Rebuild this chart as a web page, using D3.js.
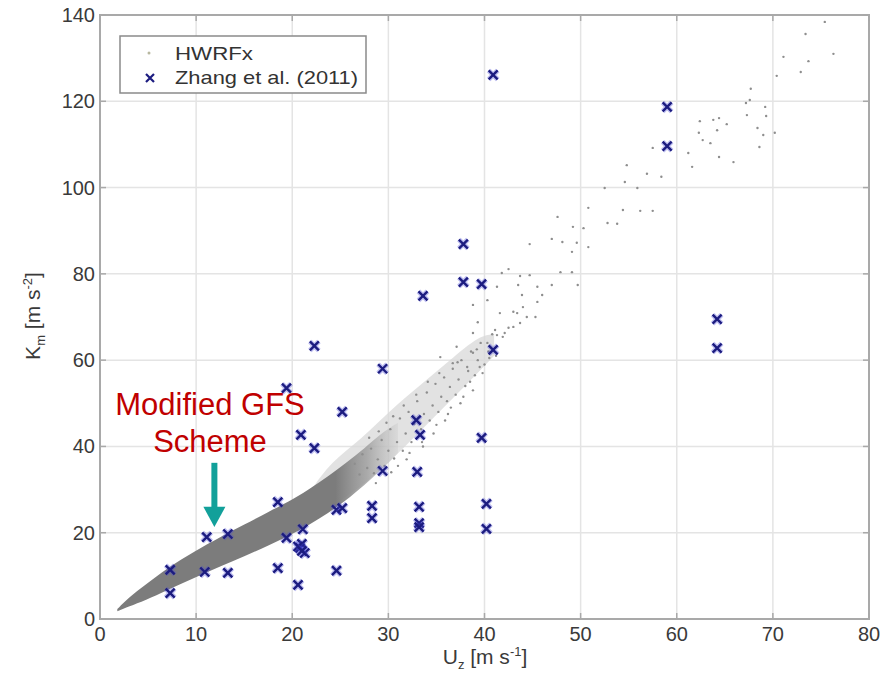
<!DOCTYPE html>
<html>
<head>
<meta charset="utf-8">
<script src="https://cdn.jsdelivr.net/npm/d3@7"></script>
<style>
body { margin: 0; background: #fff; }
text { font-family: Arial, "Liberation Sans", sans-serif; }
</style>
</head>
<body>
<script>
var width = 895, height = 678;

var xTicks = [0, 10, 20, 30, 40, 50, 60, 70, 80];
var yTicks = [0, 20, 40, 60, 80, 100, 120, 140];

// Zhang et al. (2011) points [Uz, Km]
var zhang = [
  [7.3, 11.4], [7.3, 6.0], [10.9, 10.9], [11.1, 19.0], [13.3, 19.7], [13.3, 10.7],
  [18.5, 27.1], [18.5, 11.8], [19.4, 53.5], [19.4, 18.8], [20.6, 7.9], [20.8, 16.5],
  [21.0, 17.4], [21.3, 15.3], [20.6, 16.8], [21.0, 15.8], [21.1, 20.8], [20.9, 42.7],
  [22.3, 39.6], [22.3, 63.3], [24.6, 11.2], [24.6, 25.3], [25.2, 25.7], [25.2, 48.0],
  [28.3, 26.2], [28.3, 23.4], [29.4, 58.0], [29.4, 34.3], [32.9, 46.1], [33.3, 42.7],
  [33.0, 34.1], [33.6, 74.9], [33.2, 26.0], [33.2, 22.2], [33.2, 21.3], [37.8, 86.9],
  [37.8, 78.1], [39.7, 77.6], [39.7, 42.0], [40.2, 26.7], [40.2, 20.9], [40.9, 126.1],
  [40.9, 62.4], [59.0, 118.7], [59.0, 109.6], [64.2, 69.5], [64.2, 62.8]
];

// HWRFx dense band (solid part): Uz with lower / upper Km edges
var bandU  = [1.8, 3.0, 4.7, 7.0, 9.9, 12.5, 15.1, 17.5, 20.3, 22.0, 23.7, 25.5, 27.5, 29.5, 31.0];
var bandLo = [1.8, 2.9, 4.3, 6.7, 9.6, 12.2, 14.6, 17.0, 20.0, 22.2, 24.5, 27.3, 31.0, 35.0, 38.5];
var bandHi = [2.3, 5.0, 7.9, 11.8, 15.8, 19.0, 22.0, 24.8, 28.0, 30.5, 33.0, 36.0, 39.5, 43.5, 45.5];

// HWRFx lighter speckled part of the band
var lightU  = [22.0, 24.0, 27.1, 30.2, 33.3, 36.4, 39.5, 41.0];
var lightLo = [23.0, 26.0, 30.5, 36.5, 43.5, 50.5, 57.5, 61.0];
var lightHi = [30.0, 36.4, 41.5, 48.4, 54.2, 60.0, 65.8, 66.0];

// HWRFx individual points
var hwrfx = [
  [26.5, 36.0], [27.0, 33.5], [27.3, 38.2], [27.8, 35.0], [28.2, 39.5], [28.5, 33.8],
  [28.9, 37.0], [29.3, 41.5], [29.6, 35.5], [30.0, 39.0], [30.2, 44.0], [30.6, 37.2],
  [30.9, 41.0], [31.2, 46.5], [31.5, 39.0], [31.8, 43.0], [32.1, 48.0], [32.4, 41.0],
  [32.7, 45.2], [33.0, 50.5], [33.4, 44.0], [33.7, 47.5], [34.0, 52.5], [34.3, 46.0],
  [34.6, 49.5], [34.9, 54.5], [35.2, 48.0], [35.5, 51.5], [35.8, 56.0], [36.1, 50.5],
  [36.4, 53.8], [36.7, 58.0], [37.0, 52.0], [37.3, 55.5], [37.6, 60.0], [38.0, 54.0],
  [38.3, 57.5], [38.6, 62.0], [39.0, 56.5], [39.3, 60.0], [39.6, 64.0], [40.0, 59.0],
  [40.4, 62.0], [40.8, 66.0], [41.2, 61.0],
  [29.0, 43.5], [29.8, 45.5], [30.5, 47.0], [31.0, 35.5], [31.6, 49.5], [32.2, 38.5],
  [32.9, 52.0], [33.5, 41.0], [34.1, 55.0], [34.7, 43.0], [35.3, 57.0], [35.9, 46.0],
  [36.5, 49.0], [37.2, 59.5], [37.8, 51.5], [38.5, 55.0], [39.2, 62.5], [39.8, 57.0],
  [40.5, 60.5], [28.0, 42.0], [28.7, 31.5], [30.3, 34.0], [31.9, 37.0], [33.6, 40.0],
  [35.0, 45.0], [36.2, 47.5], [37.5, 50.0], [38.8, 53.0],
  [35.4, 60.7], [36.7, 59.3], [38.2, 58.4], [39.5, 58.4], [37.1, 63.1], [38.8, 61.7],
  [38.8, 66.3], [40.3, 64.0], [41.9, 65.4], [39.3, 68.8], [41.1, 67.0], [42.5, 67.5],
  [43.7, 68.6], [38.8, 72.8], [40.3, 73.9], [41.6, 70.9], [43.0, 71.2], [44.4, 70.0],
  [43.0, 67.7], [41.3, 65.8], [42.1, 66.3], [43.4, 70.9], [45.3, 70.0], [44.0, 72.3],
  [43.9, 75.1], [46.0, 75.1], [45.5, 73.5], [41.8, 80.2], [41.3, 77.0], [42.5, 81.1],
  [43.7, 79.5], [44.7, 79.7], [43.5, 77.4], [45.5, 77.0], [47.0, 77.4], [47.9, 80.4],
  [49.1, 80.4], [49.7, 77.4], [44.7, 86.9], [47.0, 88.1], [48.1, 87.4], [49.6, 87.2],
  [50.8, 86.2], [49.1, 85.1], [47.6, 93.2], [49.2, 90.9], [50.3, 90.6], [52.8, 91.8],
  [53.8, 91.6], [50.8, 95.3], [54.4, 94.8], [56.2, 94.6], [57.5, 94.6], [52.5, 99.9],
  [55.9, 99.9], [54.6, 101.3], [54.8, 105.2], [56.9, 103.2], [58.4, 102.5], [61.6, 104.8],
  [65.9, 105.9], [64.4, 107.1], [61.2, 108.0], [57.5, 109.2], [68.6, 109.4], [63.5, 110.3],
  [62.7, 111.0], [69.0, 112.2], [70.2, 112.7], [62.3, 112.7], [64.2, 113.3], [68.4, 113.8],
  [65.2, 114.7], [62.4, 115.4], [63.8, 115.7], [64.4, 116.1], [67.3, 116.8], [69.3, 116.6],
  [69.2, 118.7], [67.2, 119.6], [67.6, 120.3], [67.7, 122.9], [70.4, 125.9], [72.9, 126.8],
  [73.7, 129.3], [71.1, 130.3], [76.3, 131.0], [73.4, 135.6], [75.4, 138.4]
];

var svg = d3.select("body").append("svg")
    .attr("width", width)
    .attr("height", height)
    .style("background", "#fff");

var x = d3.scaleLinear().domain([0, 80]).range([100, 869]);
var y = d3.scaleLinear().domain([0, 140]).range([619, 15]);

// grid
svg.selectAll("line.vgrid")
    .data(xTicks.slice(1, -1))
    .enter().append("line")
    .attr("class", "vgrid")
    .attr("x1", function (d) { return x(d); })
    .attr("x2", function (d) { return x(d); })
    .attr("y1", y(0)).attr("y2", y(140))
    .style("stroke", "#e4e4e4").style("stroke-width", 1.5);

svg.selectAll("line.hgrid")
    .data(yTicks.slice(1, -1))
    .enter().append("line")
    .attr("class", "hgrid")
    .attr("y1", function (d) { return y(d); })
    .attr("y2", function (d) { return y(d); })
    .attr("x1", x(0)).attr("x2", x(80))
    .style("stroke", "#e4e4e4").style("stroke-width", 1.5);

// HWRFx band
var light = lightU.map(function (u, i) { return [u, lightLo[i], lightHi[i]]; });
var band = bandU.map(function (u, i) { return [u, bandLo[i], bandHi[i]]; });
var area = d3.area()
    .x(function (d) { return x(d[0]); })
    .y0(function (d) { return y(d[1]); })
    .y1(function (d) { return y(d[2]); })
    .curve(d3.curveBasis);

var grad = svg.append("defs").append("linearGradient")
    .attr("id", "fade")
    .attr("gradientUnits", "userSpaceOnUse")
    .attr("x1", x(24.5)).attr("x2", x(31)).attr("y1", 0).attr("y2", 0);
grad.append("stop").attr("offset", 0).attr("stop-color", "#7c7c7c").attr("stop-opacity", 1);
grad.append("stop").attr("offset", 0.5).attr("stop-color", "#919191").attr("stop-opacity", 0.7);
grad.append("stop").attr("offset", 1).attr("stop-color", "#a8a8a8").attr("stop-opacity", 0.15);

svg.append("path").datum(light).attr("d", area)
    .style("fill", "#d8d8d8").style("opacity", 0.75);
svg.append("path").datum(band).attr("d", area)
    .style("fill", "url(#fade)");

svg.selectAll("circle.hwrfx")
    .data(hwrfx)
    .enter().append("circle")
    .attr("class", "hwrfx")
    .attr("cx", function (d) { return x(d[0]); })
    .attr("cy", function (d) { return y(d[1]); })
    .attr("r", 1.2)
    .style("fill", "#8e8e8e");

// Zhang markers
function cross(s) {
    return "M" + (-s) + "," + (-s) + "L" + s + "," + s + "M" + (-s) + "," + s + "L" + s + "," + (-s);
}
var zg = svg.selectAll("g.zhang")
    .data(zhang)
    .enter().append("g")
    .attr("class", "zhang")
    .attr("transform", function (d) { return "translate(" + x(d[0]) + "," + y(d[1]) + ")"; });
zg.append("path").attr("d", cross(4.5))
    .style("stroke", "#4a4ad8").style("stroke-width", 5).style("opacity", 0.35);
zg.append("path").attr("d", cross(4.5))
    .style("stroke", "#1c1c80").style("stroke-width", 2.4);

// frame
svg.append("rect")
    .attr("x", x(0)).attr("y", y(140))
    .attr("width", x(80) - x(0)).attr("height", y(0) - y(140))
    .style("fill", "none").style("stroke", "#a9a9a9").style("stroke-width", 2);

// MATLAB style inward ticks on all sides
var tk = 6;
xTicks.forEach(function (t) {
    svg.append("line").attr("x1", x(t)).attr("x2", x(t)).attr("y1", y(0)).attr("y2", y(0) - tk)
        .style("stroke", "#a9a9a9").style("stroke-width", 1.5);
    svg.append("line").attr("x1", x(t)).attr("x2", x(t)).attr("y1", y(140)).attr("y2", y(140) + tk)
        .style("stroke", "#a9a9a9").style("stroke-width", 1.5);
});
yTicks.forEach(function (t) {
    svg.append("line").attr("y1", y(t)).attr("y2", y(t)).attr("x1", x(0)).attr("x2", x(0) + tk)
        .style("stroke", "#a9a9a9").style("stroke-width", 1.5);
    svg.append("line").attr("y1", y(t)).attr("y2", y(t)).attr("x1", x(80)).attr("x2", x(80) - tk)
        .style("stroke", "#a9a9a9").style("stroke-width", 1.5);
});

// tick labels
svg.selectAll("text.xtick")
    .data(xTicks)
    .enter().append("text")
    .attr("class", "xtick")
    .attr("x", function (d) { return x(d); })
    .attr("y", 641)
    .attr("text-anchor", "middle")
    .style("font-size", "20px").style("fill", "#3a3a3a")
    .text(function (d) { return d; });

svg.selectAll("text.ytick")
    .data(yTicks)
    .enter().append("text")
    .attr("class", "ytick")
    .attr("x", 95)
    .attr("y", function (d) { return y(d) + 7; })
    .attr("text-anchor", "end")
    .style("font-size", "20px").style("fill", "#3a3a3a")
    .text(function (d) { return d; });

// axis labels
var xl = svg.append("text")
    .attr("x", 485).attr("y", 664)
    .attr("text-anchor", "middle")
    .style("font-size", "21px").style("fill", "#3a3a3a");
xl.append("tspan").text("U");
xl.append("tspan").attr("dy", 5).style("font-size", "13px").text("z");
xl.append("tspan").attr("dy", -5).text(" [m s");
xl.append("tspan").attr("dy", -8).style("font-size", "13px").text("-1");
xl.append("tspan").attr("dy", 8).text("]");

var yl = svg.append("text")
    .attr("transform", "translate(40,316) rotate(-90)")
    .attr("text-anchor", "middle")
    .style("font-size", "21px").style("fill", "#3a3a3a");
yl.append("tspan").text("K");
yl.append("tspan").attr("dy", 5).style("font-size", "13px").text("m");
yl.append("tspan").attr("dy", -5).text(" [m s");
yl.append("tspan").attr("dy", -8).style("font-size", "13px").text("-2");
yl.append("tspan").attr("dy", 8).text("]");

// legend
var lg = svg.append("g");
lg.append("rect")
    .attr("x", 120).attr("y", 36).attr("width", 246).attr("height", 57)
    .style("fill", "#fff").style("stroke", "#8a8a8a").style("stroke-width", 1.5);
lg.append("circle").attr("cx", 149).attr("cy", 53).attr("r", 1.5).style("fill", "#b8b8a0");
lg.append("path").attr("d", cross(4)).attr("transform", "translate(150,78)")
    .style("stroke", "#1c1c80").style("stroke-width", 2.2);
lg.append("text").attr("x", 175).attr("y", 60)
    .attr("textLength", 78).attr("lengthAdjust", "spacingAndGlyphs")
    .style("font-size", "19px").style("fill", "#333").text("HWRFx");
lg.append("text").attr("x", 175).attr("y", 84)
    .attr("textLength", 183).attr("lengthAdjust", "spacingAndGlyphs")
    .style("font-size", "19px").style("fill", "#333").text("Zhang et al. (2011)");

// annotation
var note = svg.append("text")
    .attr("text-anchor", "middle")
    .style("font-size", "31px").style("fill", "#c00000");
note.append("tspan").attr("x", 210).attr("y", 415).text("Modified GFS");
note.append("tspan").attr("x", 210).attr("y", 452).text("Scheme");

var ax = x(11.9);
svg.append("rect")
    .attr("x", ax - 3).attr("y", y(36.2)).attr("width", 6).attr("height", y(25.5) - y(36.2))
    .style("fill", "#12a09a");
svg.append("path")
    .attr("d", "M" + (ax - 11) + "," + y(26) + "L" + (ax + 11) + "," + y(26) + "L" + ax + "," + y(21.3) + "Z")
    .style("fill", "#12a09a");
</script>
</body>
</html>
